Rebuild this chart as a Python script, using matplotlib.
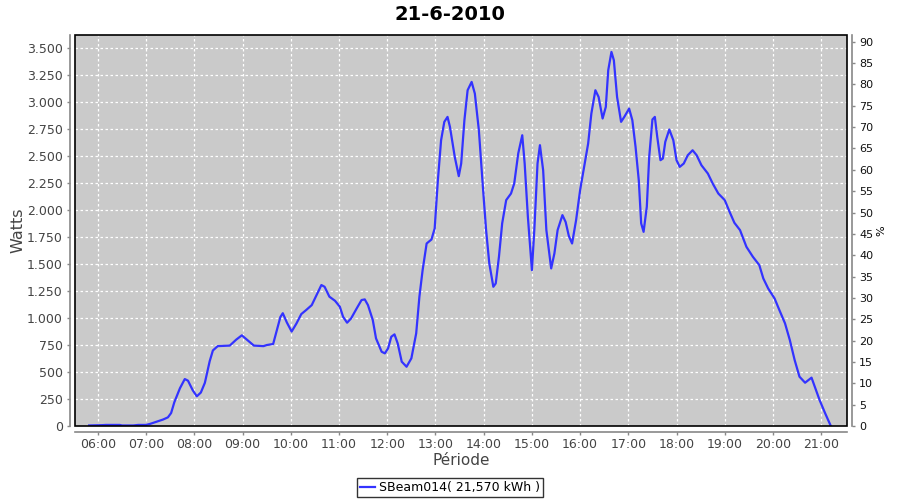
import matplotlib
matplotlib.use("Agg")
import matplotlib.pyplot as plt
from matplotlib.ticker import FuncFormatter, MultipleLocator
from matplotlib.patches import Rectangle
from matplotlib.lines import Line2D

title = "21-6-2010"
series_name = "SBeam014( 21,570 kWh )"
x_label = "Période"
y_label = "Watts"
y2_label = "%"

times = [
    "05:49", "06:05", "06:10", "06:27", "06:30", "06:44", "06:50", "07:00", "07:05", "07:13",
    "07:21", "07:27", "07:31", "07:35", "07:42", "07:48", "07:52", "07:58", "08:03", "08:08",
    "08:13", "08:19", "08:23", "08:29", "08:44", "08:52", "08:59", "09:07", "09:14", "09:26",
    "09:30", "09:38", "09:43", "09:47", "09:50", "09:55", "10:01", "10:07", "10:13", "10:19",
    "10:26", "10:32", "10:38", "10:42", "10:48", "10:55", "11:01", "11:05", "11:10", "11:15",
    "11:22", "11:28", "11:32", "11:36", "11:42", "11:46", "11:53", "11:57", "12:01", "12:05",
    "12:09", "12:13", "12:18", "12:24", "12:30", "12:36", "12:40", "12:44", "12:49", "12:55",
    "12:59", "13:03", "13:07", "13:11", "13:15", "13:18", "13:24", "13:29", "13:32", "13:36",
    "13:40", "13:45", "13:49", "13:54", "13:59", "14:03", "14:07", "14:12", "14:15", "14:19",
    "14:23", "14:28", "14:34", "14:38", "14:43", "14:48", "14:51", "14:55", "15:00", "15:03",
    "15:07", "15:10", "15:14", "15:18", "15:24", "15:28", "15:32", "15:38", "15:42", "15:46",
    "15:50", "15:55", "16:00", "16:05", "16:10", "16:14", "16:19", "16:23", "16:28", "16:32",
    "16:35", "16:39", "16:42", "16:46", "16:51", "16:55", "17:01", "17:05", "17:09", "17:13",
    "17:16", "17:19", "17:23", "17:26", "17:30", "17:33", "17:36", "17:40", "17:43", "17:46",
    "17:51", "17:56", "18:00", "18:04", "18:09", "18:14", "18:20", "18:25", "18:31", "18:39",
    "18:45", "18:52", "19:00", "19:06", "19:12", "19:19", "19:27", "19:35", "19:43", "19:48",
    "19:54", "20:02", "20:08", "20:15", "20:21", "20:27", "20:33", "20:40", "20:48", "20:52",
    "20:58", "21:05", "21:12",
]
watts = [
    5, 8, 10, 10, 5, 5, 10, 10, 20, 40,
    60, 80, 120, 220, 350, 435, 420, 330, 275, 310,
    400, 600, 700, 740, 745, 800, 840, 790, 745, 740,
    750, 760, 900, 1010, 1045, 960, 875, 950, 1037, 1074,
    1120, 1213, 1306, 1290, 1198, 1160, 1105, 1012, 957, 997,
    1090, 1167, 1173, 1120, 981, 812, 688, 673, 719, 827,
    849, 765, 596, 549, 627, 858, 1198, 1444, 1691, 1728,
    1830, 2278, 2648, 2818, 2864, 2772, 2494, 2315, 2432, 2833,
    3111, 3188, 3080, 2741, 2216, 1815, 1506, 1290, 1321, 1568,
    1877, 2093, 2154, 2247, 2525, 2694, 2432, 1938, 1444, 1815,
    2432, 2602, 2370, 1815, 1460, 1599, 1815, 1954, 1890, 1760,
    1691, 1907, 2185, 2401, 2617, 2895, 3111, 3049, 2849, 2957,
    3296, 3466, 3389, 3049, 2818, 2864, 2941, 2833, 2586, 2278,
    1877, 1799, 2031, 2494, 2840, 2864, 2679, 2463, 2478, 2633,
    2747, 2648, 2463, 2401, 2432, 2509, 2555, 2509, 2416, 2339,
    2247, 2154, 2093, 1985, 1883, 1815, 1660, 1568, 1491, 1367,
    1275, 1182, 1074, 951, 796, 611, 457, 401, 448, 364,
    241, 117, 0,
]
x_ticks = ["06:00", "07:00", "08:00", "09:00", "10:00", "11:00", "12:00", "13:00",
           "14:00", "15:00", "16:00", "17:00", "18:00", "19:00", "20:00", "21:00"]


def to_hours(s):
    h, m = s.split(":")
    return int(h) + int(m) / 60.0


xs = [to_hours(t) for t in times]

fig = plt.figure(figsize=(9, 5), dpi=100)
ax = fig.add_axes([0.0837, 0.148, 0.8571, 0.7814])
ax.set_facecolor("#CACACA")

ax.plot(xs, watts, color="#3333FF", lw=1.6, zorder=3)

ax.set_xlim(5.53, 21.53)
ax.set_ylim(0, 3620)
ax.yaxis.set_major_locator(MultipleLocator(250))
ax.yaxis.set_major_formatter(FuncFormatter(lambda v, p: f"{int(round(v)):,}".replace(",", ".")))
ax.set_xticks([to_hours(t) for t in x_ticks])
ax.set_xticklabels(x_ticks)

ax.grid(True, color="white", linestyle=(0, (2, 2)), linewidth=0.9)
ax.set_axisbelow(True)

gray = "#888888"
ax.spines["top"].set_visible(False)
ax.spines["right"].set_visible(False)
for s in ["left", "bottom"]:
    ax.spines[s].set_position(("outward", 4))
    ax.spines[s].set_color(gray)
    ax.spines[s].set_linewidth(1.2)
ax.tick_params(axis="both", colors=gray, length=2, width=1, labelsize=9, labelcolor="#444444", pad=3)

ax2 = ax.twinx()
ax2.set_ylim(0, 91.5)
ax2.yaxis.set_major_locator(MultipleLocator(5))
for s in ["top", "left", "bottom"]:
    ax2.spines[s].set_visible(False)
ax2.spines["right"].set_position(("outward", 4))
ax2.spines["right"].set_color(gray)
ax2.spines["right"].set_linewidth(1.2)
ax2.tick_params(axis="y", colors=gray, length=2, width=1, labelsize=8, labelcolor="#111111", pad=3)
ax2.set_ylabel(y2_label, fontsize=8)
ax2.yaxis.set_label_coords(1.038, 0.5)

ax.add_patch(Rectangle((0, 0), 1, 1, transform=ax.transAxes, fill=False,
                       edgecolor="black", lw=1.2, clip_on=False, zorder=5))

ax.set_ylabel(y_label, fontsize=11.5, color="#444444")
ax.yaxis.set_label_coords(-0.064, 0.5)
ax.set_xlabel(x_label, fontsize=11, color="#444444")
ax.xaxis.set_label_coords(0.5, -0.069)

fig.text(0.5, 0.972, title, ha="center", va="center", fontsize=14, fontweight="bold")

handle = Line2D([], [], color="#3333FF", lw=1.6)
leg = fig.legend([handle], [series_name], loc="center", bbox_to_anchor=(0.5, 0.025),
                 frameon=True, fontsize=9, handlelength=1.2, handletextpad=0.3,
                 borderpad=0.25, fancybox=False, edgecolor="black")
leg.get_frame().set_linewidth(1.0)

fig.savefig("out.png", dpi=100)
